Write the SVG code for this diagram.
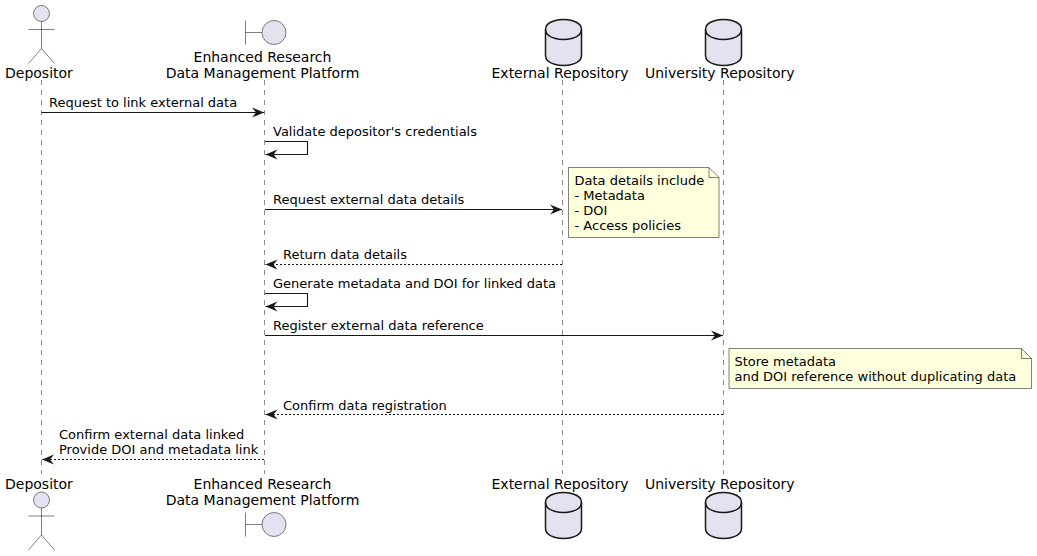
<svg xmlns="http://www.w3.org/2000/svg" width="1037" height="556" viewBox="0 0 1037 556">
<style>
text{font-family:"DejaVu Sans",sans-serif;fill:#000}
.p{font-size:14px}
.m{font-size:13px}
.ll{stroke:#181818;stroke-width:.5;stroke-dasharray:5,5;fill:none}
.a{fill:#E2E2F0;stroke:#181818;stroke-width:.55}
.d{fill:#E2E2F0;stroke:#181818;stroke-width:1.5}
.c{stroke:#181818;stroke-width:1.1;fill:none}
.dash{stroke-dasharray:2,2}
.h{fill:#181818}
.n{fill:#FEFFDD;stroke:#181818;stroke-width:.55}
</style>
<defs>
<g id="actor"><circle cx="0" cy="8" r="8" class="a"/><path d="M0 16V43M-13 24H13M0 43L-13 58M0 43L13 58" class="a" style="fill:none"/></g>
<g id="boundary"><path d="M-19 -12V12M-19 0H-2.500" class="a" style="fill:none"/><circle cx="9.500" cy="0" r="12" class="a"/></g>
<g id="db"><path d="M0 10C0 0 18 0 18 0C18 0 36 0 36 10V36C36 46 18 46 18 46C18 46 0 46 0 36Z" class="d"/><path d="M0 10C0 20 18 20 18 20C18 20 36 20 36 10" class="d" style="fill:none"/></g>
<marker id="hr" markerUnits="userSpaceOnUse" markerWidth="14" markerHeight="12" refX="13" refY="6" orient="auto"><path d="M1 1L13 6L1 11L5 6Z" class="h"/></marker>
</defs>
<g id="lifelines">
<line class="ll" x1="41.500" y1="80" x2="41.500" y2="474"/>
<line class="ll" x1="264.500" y1="80" x2="264.500" y2="474"/>
<line class="ll" x1="562.500" y1="80" x2="562.500" y2="474"/>
<line class="ll" x1="723.500" y1="80" x2="723.500" y2="474"/>
</g>
<g id="depositor">
<use href="#actor" x="41.500" y="5.500"/>
<text class="p" x="5" y="78">Depositor</text>
<text class="p" x="5" y="489">Depositor</text>
<use href="#actor" x="41.500" y="492"/>
</g>
<g id="platform">
<use href="#boundary" x="264.500" y="32.500"/>
<text class="p" x="262.500" y="62" text-anchor="middle">Enhanced Research</text>
<text class="p" x="262.500" y="78" text-anchor="middle">Data Management Platform</text>
<text class="p" x="262.500" y="489" text-anchor="middle">Enhanced Research</text>
<text class="p" x="262.500" y="505" text-anchor="middle">Data Management Platform</text>
<use href="#boundary" x="264.500" y="524.500"/>
</g>
<g id="external">
<use href="#db" x="545.500" y="19.500"/>
<text class="p" x="491.500" y="78">External Repository</text>
<text class="p" x="491.500" y="489">External Repository</text>
<use href="#db" x="545.500" y="492.500"/>
</g>
<g id="university">
<use href="#db" x="705.500" y="19.500"/>
<text class="p" x="645" y="78">University Repository</text>
<text class="p" x="645" y="489">University Repository</text>
<use href="#db" x="705.500" y="492.500"/>
</g>
<g id="connectors">
<line class="c" x1="41.500" y1="112.500" x2="264" y2="112.500" marker-end="url(#hr)"/>
<path class="c" d="M265 141.500H307.500V154.500H265.500" marker-end="url(#hr)"/>
<line class="c" x1="265" y1="209.500" x2="562" y2="209.500" marker-end="url(#hr)"/>
<line class="c dash" x1="562" y1="264.500" x2="265.500" y2="264.500" marker-end="url(#hr)"/>
<path class="c" d="M265 293.500H307.500V306.500H265.500" marker-end="url(#hr)"/>
<line class="c" x1="265" y1="335.500" x2="723" y2="335.500" marker-end="url(#hr)"/>
<line class="c dash" x1="723" y1="414.500" x2="265.500" y2="414.500" marker-end="url(#hr)"/>
<line class="c dash" x1="264" y1="459.500" x2="42" y2="459.500" marker-end="url(#hr)"/>
</g>
<g id="labels">
<text class="m" x="49" y="107">Request to link external data</text>
<text class="m" x="273" y="136">Validate depositor's credentials</text>
<text class="m" x="273" y="204">Request external data details</text>
<text class="m" x="283" y="259">Return data details</text>
<text class="m" x="273" y="288">Generate metadata and DOI for linked data</text>
<text class="m" x="273" y="330">Register external data reference</text>
<text class="m" x="283" y="410">Confirm data registration</text>
<text class="m" x="59" y="439">Confirm external data linked</text>
<text class="m" x="59" y="454">Provide DOI and metadata link</text>
</g>
<g id="note-details">
<path class="n" d="M568.500 167.500H709L719 177.500V237.500H568.500Z"/>
<path class="n" d="M709 167.500V177.500H719" style="fill:none"/>
<text class="m" x="574.500" y="185">Data details include</text>
<text class="m" x="574.500" y="200">- Metadata</text>
<text class="m" x="574.500" y="215">- DOI</text>
<text class="m" x="574.500" y="230">- Access policies</text>
</g>
<g id="note-store">
<path class="n" d="M729 348.500H1021.500L1031.500 358.500V388.500H729Z"/>
<path class="n" d="M1021.500 348.500V358.500H1031.500" style="fill:none"/>
<text class="m" x="734.500" y="366">Store metadata</text>
<text class="m" x="734.500" y="381">and DOI reference without duplicating data</text>
</g>
</svg>
